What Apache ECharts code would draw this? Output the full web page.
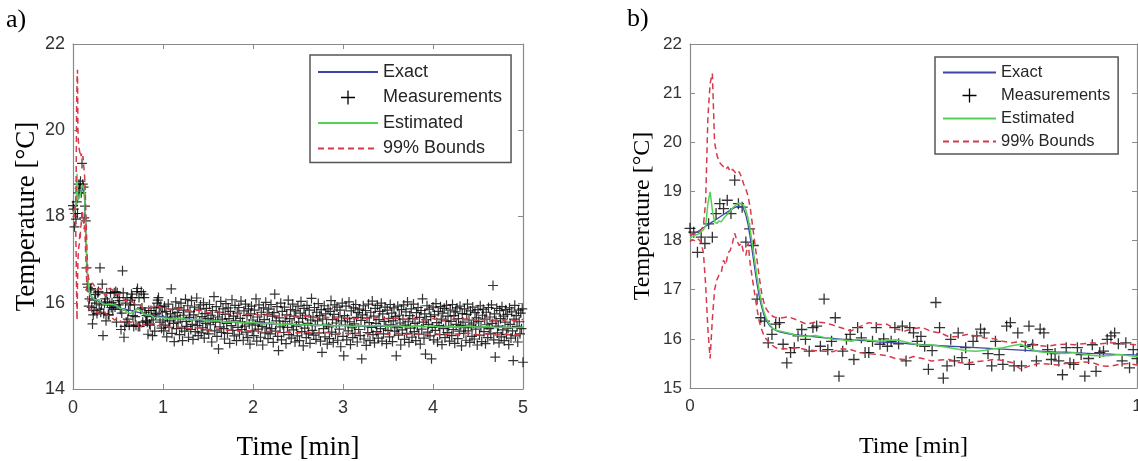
<!DOCTYPE html>
<html>
<head>
<meta charset="utf-8">
<script src="https://cdn.jsdelivr.net/npm/echarts@6/dist/echarts.min.js"></script>
<style>
html,body{margin:0;padding:0;background:#fff;}
#chart{width:1138px;height:461px;}
</style>
</head>
<body>
<div id="chart"></div>
<script>
// ---------------- data ----------------
const measStepMin = 1 / 120; // sampling interval of the measurements [min]
const measTemps = [
18.25,18.17,17.76,18.07,17.94,18.34,18.07,18.55,18.75,18.65,
18.82,18.55,19.23,18.75,18.68,17.97,18.24,17.90,16.81,16.43,
16.36,15.92,16.09,16.30,16.33,15.89,15.51,15.72,15.82,16.06,
16.19,15.99,15.75,16.23,16.26,15.85,16.81,15.78,15.95,16.43,
15.24,15.75,15.99,16.09,15.58,16.23,16.02,15.72,15.72,15.95,
16.23,15.89,16.00,15.85,15.95,16.23,15.90,16.26,15.55,16.23,
16.12,15.95,16.05,15.85,15.38,15.76,16.74,16.23,15.20,15.45,
15.99,15.55,16.12,15.62,15.82,15.48,15.95,16.06,16.20,16.12,
15.70,15.45,15.95,15.68,15.48,16.26,16.33,15.45,16.12,15.45,
15.85,16.26,15.88,15.55,16.20,16.12,15.78,15.58,15.70,15.55,
15.27,15.82,15.51,15.48,15.82,15.68,15.24,15.60,15.88,15.34,
15.72,15.75,15.99,16.06,16.12,15.90,15.55,15.92,15.41,15.78,
15.60,
15.35,15.92,15.48,15.80,15.21,15.66,15.97,15.43,15.58,15.74,16.32,15.29,15.85,15.52,15.10,15.69,16.02,15.40,15.77,15.55,
15.88,15.26,15.63,15.99,15.41,15.12,15.71,15.83,15.34,16.08,15.57,15.45,15.93,15.20,15.66,15.79,15.38,16.05,15.50,15.15,
15.72,15.90,15.33,15.61,16.11,15.47,15.24,15.85,15.56,15.95,15.30,15.68,15.42,16.00,15.18,15.75,15.52,15.87,15.37,15.64,
15.28,15.96,15.49,15.71,15.09,15.82,15.60,16.14,15.35,15.55,15.91,15.22,15.67,14.93,15.78,15.44,16.03,15.31,15.62,15.86,
15.40,15.16,15.73,15.98,15.52,15.29,15.88,15.63,15.06,15.80,15.47,16.07,15.36,15.69,15.23,15.94,15.58,15.12,15.76,15.43,
15.89,15.27,15.64,16.04,15.38,15.55,15.13,15.81,15.46,15.97,15.32,15.70,15.19,15.86,15.51,15.04,15.74,15.92,15.35,15.60,
15.24,15.83,15.48,16.09,15.11,15.67,15.39,15.95,15.56,15.20,15.78,15.45,15.02,15.88,15.61,15.30,16.01,15.42,15.73,15.17,
15.85,15.53,15.28,15.96,15.40,15.69,15.08,15.77,16.20,15.34,15.58,15.91,15.22,14.89,15.65,15.44,15.99,15.14,15.80,15.49,
15.31,15.90,15.57,15.05,15.72,15.43,16.06,15.26,15.63,15.84,15.18,15.50,15.97,15.37,15.69,15.09,15.81,15.46,15.23,15.92,
15.55,15.12,15.76,16.03,15.33,15.64,15.00,15.87,15.41,15.71,15.19,15.94,15.52,15.28,15.83,15.06,15.60,16.10,15.36,15.67,
15.25,15.89,15.47,15.15,15.78,15.58,15.98,15.30,15.70,15.11,15.84,14.85,15.62,15.40,15.93,15.21,15.74,15.50,15.04,15.86,
15.44,15.17,15.80,16.05,15.32,15.61,15.08,15.73,15.95,15.27,15.53,15.90,15.13,15.67,15.39,15.83,14.98,15.58,15.99,15.22,
14.77,15.70,15.48,15.92,15.14,15.63,15.35,16.02,15.56,15.03,15.81,15.42,15.19,15.88,15.51,15.29,15.96,15.66,15.09,15.77,
15.38,15.85,15.24,15.59,14.70,15.72,15.93,15.16,15.47,15.82,15.01,15.65,15.31,15.97,15.54,15.12,15.78,15.43,16.04,15.26,
15.69,15.07,15.87,15.52,15.33,15.94,15.18,15.61,15.80,15.40,15.99,15.11,15.74,15.28,15.57,15.90,15.45,15.05,15.83,15.36,
15.64,15.21,15.96,15.49,15.76,15.10,15.58,15.88,15.34,15.68,14.77,15.42,15.92,15.25,15.71,15.53,15.02,15.84,15.37,15.62,
15.95,15.15,15.48,15.79,15.29,16.02,15.56,15.08,15.70,15.41,15.86,15.20,15.63,15.97,15.33,15.52,15.12,15.77,15.45,15.89,
15.27,15.66,15.04,15.82,15.39,16.09,15.55,15.18,15.74,14.81,15.61,15.93,15.32,15.50,15.85,15.23,15.68,14.70,15.43,15.90,
15.14,15.72,15.36,15.98,15.54,15.09,15.80,15.47,15.26,15.91,15.62,15.03,15.76,15.40,15.87,15.19,15.58,15.94,15.31,15.69,
15.45,15.11,15.83,15.57,15.24,15.96,15.38,15.70,15.06,15.79,15.50,15.88,15.17,15.63,15.34,15.92,15.47,15.00,15.75,15.55,
15.29,15.86,15.42,15.13,15.73,15.97,15.35,15.60,15.08,15.81,15.48,15.22,15.90,15.53,15.16,15.77,15.39,15.65,15.02,15.84,
15.57,15.25,15.93,15.44,15.10,15.71,15.85,15.33,15.62,15.05,15.78,15.49,15.19,15.89,15.40,15.67,15.28,15.95,15.52,16.40,
15.14,15.74,14.74,15.58,15.87,15.30,15.46,15.07,15.82,15.63,15.21,15.91,15.37,15.69,15.12,15.55,15.84,15.26,15.73,15.41,
15.03,15.88,15.50,15.18,15.79,15.35,14.66,15.62,15.94,15.23,15.70,15.45,15.09,15.83,15.56,15.28,15.76,15.40,15.86,14.62
];

const curveTimes = [
0,0.005,0.01,0.015,0.02,0.025,0.03,0.035,0.04,0.045,0.05,0.055,0.06,0.065,0.07,0.075,0.08,0.085,0.09,0.095,
0.1,0.105,0.11,0.115,0.12,0.125,0.13,0.135,0.14,0.145,0.15,0.155,0.16,0.165,0.17,0.175,0.18,0.185,0.19,0.195,0.2,
0.22,0.24,0.26,0.28,0.30,0.32,0.34,0.36,0.38,0.40,0.42,0.44,0.46,0.48,0.50,0.52,0.54,0.56,0.58,0.60,
0.62,0.64,0.66,0.68,0.70,0.72,0.74,0.76,0.78,0.80,0.82,0.84,0.86,0.88,0.90,0.92,0.94,0.96,0.98,1.00,
1.1,1.2,1.3,1.4,1.5,1.6,1.7,1.8,1.9,2.0,2.1,2.2,2.3,2.4,2.5,2.6,2.7,2.8,2.9,3.0,
3.1,3.2,3.3,3.4,3.5,3.6,3.7,3.8,3.9,4.0,4.1,4.2,4.3,4.4,4.5,4.6,4.7,4.8,4.9,5.0
];

const exactTemps = [
18.10,18.12,18.15,18.17,18.20,18.23,18.26,18.29,18.32,18.35,18.38,18.41,18.44,18.47,18.50,18.53,18.56,18.59,18.62,18.65,
18.67,18.69,18.70,18.69,18.64,18.52,18.32,18.05,17.74,17.42,17.12,16.86,16.66,16.50,16.39,16.31,16.25,16.21,16.18,16.16,16.14,
16.10,16.08,16.06,16.04,16.02,16.01,15.99,15.98,15.97,15.96,15.94,15.93,15.92,15.91,15.89,15.88,15.87,15.86,15.85,15.84,
15.83,15.82,15.81,15.80,15.79,15.78,15.77,15.76,15.75,15.74,15.73,15.73,15.72,15.71,15.70,15.70,15.69,15.68,15.68,15.67,
15.65,15.63,15.62,15.60,15.59,15.58,15.56,15.55,15.54,15.53,15.52,15.51,15.50,15.50,15.49,15.49,15.48,15.48,15.47,15.47,
15.47,15.46,15.46,15.46,15.46,15.45,15.45,15.45,15.45,15.45,15.44,15.44,15.44,15.44,15.44,15.43,15.43,15.43,15.43,15.43
];

const estimatedTemps = [
18.05,18.08,18.10,18.12,18.14,18.18,18.22,18.30,18.75,18.99,18.62,18.38,18.35,18.40,18.38,18.45,18.50,18.55,18.60,18.66,
18.70,18.74,18.76,18.75,18.72,18.62,18.45,18.20,17.90,17.58,17.25,16.97,16.74,16.56,16.43,16.34,16.27,16.22,16.19,16.17,16.16,
16.12,16.07,16.05,16.07,16.03,15.99,15.98,15.95,15.99,15.97,15.95,15.96,15.98,15.94,15.90,15.87,15.88,15.85,15.82,15.79,
15.76,15.75,15.77,15.80,15.82,15.86,15.89,15.80,15.74,15.72,15.71,15.70,15.72,15.69,15.66,15.65,15.66,15.68,15.66,15.64,
15.62,15.64,15.60,15.62,15.57,15.59,15.55,15.56,15.53,15.55,15.51,15.53,15.49,15.51,15.48,15.50,15.47,15.49,15.46,15.48,
15.45,15.47,15.46,15.48,15.45,15.47,15.44,15.46,15.44,15.46,15.43,15.45,15.44,15.46,15.43,15.45,15.42,15.44,15.42,15.44
];

const upperBound = [
18.12,18.14,18.13,18.16,18.18,18.22,18.30,18.80,20.50,21.20,21.40,20.00,19.75,19.60,19.55,19.50,19.45,19.50,19.40,19.45,
19.40,19.35,19.40,19.30,19.15,19.05,18.90,18.65,18.30,17.95,17.60,17.25,16.95,16.75,16.62,16.55,16.50,16.46,16.44,16.43,16.42,
16.45,16.38,16.30,16.34,16.33,16.28,16.22,16.16,16.25,16.33,16.29,16.30,16.20,16.16,16.21,16.23,16.15,16.12,16.04,16.05,
16.09,16.06,16.02,16.00,15.95,15.92,15.95,15.92,15.86,15.85,15.88,15.89,15.88,15.90,15.92,15.90,15.92,15.91,15.89,15.88,
15.84,15.86,15.80,15.83,15.77,15.80,15.74,15.76,15.72,15.75,15.70,15.73,15.68,15.71,15.66,15.69,15.65,15.67,15.63,15.66,
15.62,15.65,15.63,15.66,15.62,15.64,15.61,15.63,15.60,15.63,15.60,15.62,15.61,15.63,15.59,15.62,15.59,15.61,15.58,15.61
];

const lowerBound = [
17.98,18.02,18.00,18.05,18.02,17.96,17.75,17.10,16.20,15.60,16.40,17.00,17.20,17.30,17.35,17.60,17.50,17.75,17.80,17.95,
18.15,18.00,17.90,17.95,17.75,17.70,17.95,17.50,17.20,16.90,16.60,16.35,16.20,16.08,16.00,15.95,15.90,15.86,15.83,15.81,15.80,
15.80,15.82,15.78,15.76,15.75,15.74,15.80,15.78,15.72,15.70,15.68,15.66,15.60,15.58,15.64,15.60,15.55,15.57,15.58,15.52,
15.50,15.54,15.55,15.58,15.56,15.52,15.38,15.45,15.50,15.49,15.47,15.50,15.51,15.53,15.52,15.45,15.44,15.48,15.50,15.47,
15.42,15.43,15.40,15.42,15.37,15.39,15.36,15.37,15.34,15.36,15.32,15.34,15.31,15.32,15.30,15.32,15.29,15.31,15.28,15.30,
15.28,15.29,15.28,15.30,15.27,15.29,15.27,15.28,15.27,15.29,15.26,15.28,15.27,15.29,15.26,15.28,15.25,15.27,15.25,15.27
];

const panelA = { xMin: 0, xMax: 5, xStep: 1, yMin: 14, yMax: 22, yStep: 2 };
const panelB = { xMin: 0, xMax: 1, xStep: 1, yMin: 15, yMax: 22, yStep: 1 };

// ---------------- chart ----------------
const measData = measTemps.map((v, i) => [i * measStepMin, v]);
const pairs = vals => curveTimes.map((t, i) => [t, vals[i]]);

const COL_EXACT = '#3d46a6';
const COL_EST = '#55d155';
const COL_BOUND = '#d63a4a';
const AXIS_COL = '#8a8a8a';
const PLUS = 'path://M0,5L10,5M5,0L5,10';

function xAxes(p, gridIndex, fs) {
  const base = {
    type: 'value', gridIndex, min: p.xMin, max: p.xMax, interval: p.xStep,
    axisLine: { show: true, onZero: false, lineStyle: { color: AXIS_COL, width: 1.2 } },
    axisTick: { show: true, inside: true, length: 5, lineStyle: { color: AXIS_COL } },
    splitLine: { show: false }
  };
  return [
    Object.assign({}, base, {
      position: 'bottom',
      axisLabel: { fontSize: fs.tick, color: '#333', fontFamily: 'Liberation Sans', margin: 10 },
      name: 'Time [min]', nameLocation: 'middle', nameGap: fs.xGap,
      nameTextStyle: { fontFamily: 'Liberation Serif', fontSize: fs.title, color: '#000' }
    }),
    Object.assign({}, base, { position: 'top', axisLabel: { show: false } })
  ];
}
function yAxes(p, gridIndex, fs) {
  const base = {
    type: 'value', gridIndex, min: p.yMin, max: p.yMax, interval: p.yStep,
    axisLine: { show: true, onZero: false, lineStyle: { color: AXIS_COL, width: 1.2 } },
    axisTick: { show: true, inside: true, length: 5, lineStyle: { color: AXIS_COL } },
    splitLine: { show: false }
  };
  return [
    Object.assign({}, base, {
      position: 'left',
      axisLabel: { fontSize: fs.tick, color: '#333', fontFamily: 'Liberation Sans', margin: 8 },
      name: 'Temperature [°C]', nameLocation: 'middle', nameGap: fs.yGap,
      nameTextStyle: { fontFamily: 'Liberation Serif', fontSize: fs.title, color: '#000' }
    }),
    Object.assign({}, base, { position: 'right', axisLabel: { show: false } })
  ];
}
function seriesFor(xi, yi, plusSize, plusWidth) {
  return [
    { name: 'Exact', type: 'line', xAxisIndex: xi, yAxisIndex: yi, data: pairs(exactTemps),
      symbol: 'none', lineStyle: { color: COL_EXACT, width: 1.3 }, itemStyle: { color: COL_EXACT }, z: 2 },
    { name: 'Measurements', type: 'scatter', xAxisIndex: xi, yAxisIndex: yi, data: measData,
      symbol: PLUS, symbolSize: plusSize, symbolKeepAspect: true,
      itemStyle: { color: 'transparent', borderColor: '#000', borderWidth: plusWidth }, z: 1 },
    { name: 'Estimated', type: 'line', xAxisIndex: xi, yAxisIndex: yi, data: pairs(estimatedTemps),
      symbol: 'none', lineStyle: { color: COL_EST, width: 1.5 }, itemStyle: { color: COL_EST }, z: 3 },
    { name: '99% Bounds', type: 'line', xAxisIndex: xi, yAxisIndex: yi, data: pairs(upperBound),
      symbol: 'none', lineStyle: { color: COL_BOUND, width: 1.5, type: [6, 4] }, itemStyle: { color: COL_BOUND }, z: 4 },
    { name: '99% Bounds', type: 'line', xAxisIndex: xi, yAxisIndex: yi, data: pairs(lowerBound),
      symbol: 'none', lineStyle: { color: COL_BOUND, width: 1.5, type: [6, 4] }, itemStyle: { color: COL_BOUND }, z: 4 }
  ];
}
function legendFor(left, top, itemW, fontSize, gap, padding) {
  return {
    orient: 'vertical', left, top, itemWidth: itemW, itemHeight: 14, itemGap: gap,
    padding, borderColor: '#555', borderWidth: 1.5, backgroundColor: '#fff',
    selectedMode: false,
    itemStyle: { opacity: 0 },
    textStyle: { fontSize, color: '#262626', fontFamily: 'Liberation Sans' },
    data: [
      'Exact',
      { name: 'Measurements', itemStyle: { opacity: 1, color: 'transparent', borderColor: '#000', borderWidth: 1.3 } },
      'Estimated',
      '99% Bounds'
    ]
  };
}

const fsA = { tick: 18, title: 27, xGap: 45, yGap: 33 };
const fsB = { tick: 17, title: 24, xGap: 47, yGap: 35 };

const chart = echarts.init(document.getElementById('chart'), null, { renderer: 'canvas' });
chart.setOption({
  animation: false,
  backgroundColor: '#fff',
  grid: [
    { left: 73, top: 44, width: 450, height: 345, outerBoundsMode: 'none', containLabel: false },
    { left: 690, top: 44, width: 447, height: 344, outerBoundsMode: 'none', containLabel: false }
  ],
  xAxis: [].concat(xAxes(panelA, 0, fsA), xAxes(panelB, 1, fsB)),
  yAxis: [].concat(yAxes(panelA, 0, fsA), yAxes(panelB, 1, fsB)),
  legend: [
    legendFor(310, 55, 60, 18, 7.5, [8, 9, 5, 7]),
    legendFor(935, 57, 53, 16.5, 6, [7, 8, 4, 7])
  ],
  series: [].concat(seriesFor(0, 0, 10, 1.2), seriesFor(2, 2, 11, 1.3)),
  graphic: [
    { type: 'text', left: 6, top: 7, style: { text: 'a)', font: '26px "Liberation Serif"', fill: '#000' } },
    { type: 'text', left: 627, top: 6, style: { text: 'b)', font: '26px "Liberation Serif"', fill: '#000' } }
  ]
});
</script>
</body>
</html>
